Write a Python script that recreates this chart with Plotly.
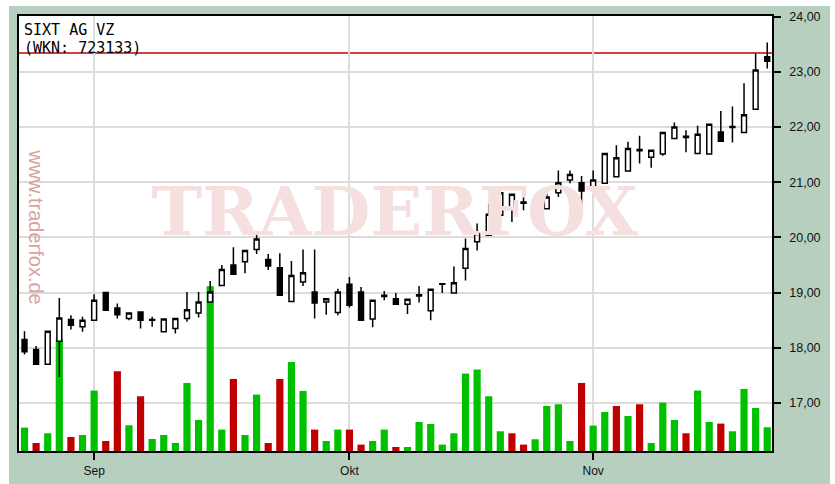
import plotly.graph_objects as go
import pandas as pd

# ---- data ----
dates = pd.bdate_range("2010-08-24", "2010-11-22")

opens = [18.15, 17.97, 17.70, 18.12, 18.51, 18.38, 18.50, 19.00, 18.72, 18.53,
         18.65, 18.50, 18.29, 18.35, 18.53, 18.63, 18.83, 19.13, 19.50, 19.56,
         19.78, 19.60, 19.45, 18.84, 19.19, 19.01, 18.83, 18.64, 19.15, 19.01,
         18.52, 18.93, 18.89, 18.79, 18.94, 18.67, 19.15, 18.99, 19.44, 19.92,
         20.04, 20.40, 20.51, 20.64, 20.62, 20.52, 20.81, 21.04, 20.99, 20.89,
         20.98, 21.10, 21.20, 21.59, 21.45, 21.51, 21.79, 21.83, 21.52, 21.51,
         21.91, 21.99, 21.90, 22.32, 23.27]
highs = [18.30, 18.03, 18.31, 18.90, 18.59, 18.56, 18.97, 19.01, 18.80, 18.64,
         18.66, 18.56, 18.53, 18.54, 19.01, 19.01, 19.21, 19.50, 19.82, 19.77,
         20.06, 19.70, 19.71, 19.57, 19.78, 19.78, 18.90, 19.07, 19.28, 19.10,
         18.87, 19.03, 18.99, 18.89, 19.12, 19.07, 19.17, 19.47, 19.98, 20.25,
         20.61, 20.82, 20.79, 20.80, 20.77, 20.89, 21.21, 21.21, 21.11, 21.21,
         21.53, 21.67, 21.73, 21.84, 21.59, 21.91, 22.08, 21.94, 22.02, 22.06,
         22.29, 22.37, 22.79, 23.33, 23.53]
lows = [17.88, 17.70, 17.70, 17.47, 18.33, 18.29, 18.50, 18.67, 18.53, 18.50,
        18.35, 18.38, 18.28, 18.26, 18.47, 18.55, 18.82, 19.12, 19.33, 19.35,
        19.70, 19.41, 18.95, 18.84, 19.12, 18.53, 18.60, 18.59, 18.73, 18.50,
        18.37, 18.86, 18.79, 18.61, 18.82, 18.50, 18.99, 18.99, 19.22, 19.76,
        20.04, 20.18, 20.28, 20.49, 20.49, 20.51, 20.73, 20.98, 20.46, 20.88,
        20.97, 21.10, 21.19, 21.34, 21.26, 21.48, 21.78, 21.54, 21.52, 21.50,
        21.74, 21.72, 21.89, 22.31, 23.06]
closes = [17.93, 17.70, 18.30, 18.54, 18.41, 18.50, 18.86, 18.68, 18.60, 18.63,
          18.50, 18.51, 18.52, 18.53, 18.69, 18.83, 19.01, 19.42, 19.33, 19.76,
          19.97, 19.48, 18.95, 19.31, 19.36, 18.81, 18.89, 19.01, 18.77, 18.50,
          18.86, 18.95, 18.79, 18.88, 18.96, 19.06, 19.16, 19.18, 19.80, 20.07,
          20.42, 20.81, 20.78, 20.62, 20.65, 20.73, 20.99, 21.14, 20.84, 21.04,
          21.52, 21.44, 21.61, 21.57, 21.58, 21.90, 22.00, 21.81, 21.87, 22.05,
          21.74, 22.01, 22.22, 23.03, 23.19]
volumes = [23400, 8000, 17700, 112000, 14000, 16000, 60400, 10000, 79700, 25700,
           54700, 12000, 16000, 8000, 68000, 31000, 164700, 21400, 72000, 16000,
           56400, 8000, 72000, 89000, 60000, 21400, 10000, 21400, 21400, 6400,
           10000, 21400, 4000, 4000, 29000, 27000, 6400, 17700, 77400, 81400,
           54700, 19700, 17700, 6400, 11700, 45000, 46700, 10000, 68000, 25400,
           39000, 45000, 35000, 46700, 8000, 48400, 31000, 17700, 60400, 29000,
           27400, 19700, 62000, 43000, 23700]
month_names = {9: "Sep", 10: "Okt", 11: "Nov"}
reference_level = 23.34
title_lines = ["SIXT AG VZ", "(WKN: 723133)"]

# ---- derived ----
xs = list(range(len(dates)))
vol_colors = ["#00c000"] + ["#00c000" if closes[i] >= closes[i - 1] else "#c00000"
                             for i in range(1, len(closes))]
tickvals, ticktext = [], []
for i, d in enumerate(dates):
    if d.month in month_names and (i == 0 or dates[i - 1].month != d.month):
        tickvals.append(i)
        ticktext.append(month_names[d.month])

SAGE = "#b7cfbe"
GRID = "#dcdcdc"

fig = go.Figure()
fig.add_trace(go.Bar(x=xs, y=volumes, marker=dict(color=vol_colors, line=dict(width=0)),
                     width=0.62, yaxis="y", hoverinfo="skip", showlegend=False))
fig.add_trace(go.Scatter(x=[31.9], y=[20.35], mode="text", text=["TRADERFOX"],
                         textfont=dict(family="DejaVu Serif", size=68, color="#f5dfdf", weight="bold"),
                         yaxis="y2", hoverinfo="skip", showlegend=False))
fig.add_trace(go.Candlestick(
    x=xs, open=opens, high=highs, low=lows, close=closes, yaxis="y2",
    increasing=dict(line=dict(color="black", width=1.5), fillcolor="white"),
    decreasing=dict(line=dict(color="black", width=1.5), fillcolor="black"),
    whiskerwidth=0, hoverinfo="skip", showlegend=False))

fig.update_layout(
    width=835, height=484,
    margin=dict(l=19, r=63, t=16, b=33, autoexpand=False),
    paper_bgcolor=SAGE, plot_bgcolor="white",
    separators=",.",
    boxgap=0.4,
    font=dict(family="Liberation Sans, Arial", size=12, color="#111"),
    hovermode=False,
    xaxis=dict(range=[-0.474, 64.41], tickvals=tickvals, ticktext=ticktext,
               showgrid=True, gridcolor=GRID, gridwidth=2, zeroline=False,
               ticks="outside", ticklen=7, tickcolor="black", tickwidth=1.5,
               ticklabelstandoff=1, automargin=False,
               showline=True, linecolor="black", linewidth=1.5, mirror=True,
               rangeslider=dict(visible=False), fixedrange=True),
    yaxis=dict(range=[0, 434700], visible=False, fixedrange=True, automargin=False),
    yaxis2=dict(overlaying="y", side="right", range=[16.13, 24.01],
                tickvals=list(range(17, 25)), tickformat=".2f",
                showgrid=True, gridcolor=GRID, gridwidth=2, zeroline=False,
                ticks="outside", ticklen=7, tickcolor="black", tickwidth=1.5,
                ticklabelstandoff=6, tickfont=dict(size=12.5), automargin=False,
                showline=True, linecolor="black", linewidth=1.5, mirror=True,
                fixedrange=True),
    shapes=[
        dict(type="line", xref="paper", x0=0, x1=1, yref="y2", y0=reference_level, y1=reference_level,
             line=dict(color="#c00000", width=1.5), layer="below"),
        dict(type="rect", xref="paper", yref="paper", x0=-0.03, x1=-0.0133, y0=-0.2, y1=1.2,
             fillcolor="white", line=dict(width=0), layer="above"),
        dict(type="rect", xref="paper", yref="paper", x0=-0.03, x1=1.2, y0=1.023, y1=1.2,
             fillcolor="white", line=dict(width=0), layer="above"),
        dict(type="rect", xref="paper", yref="paper", x0=1.077, x1=1.2, y0=-0.2, y1=1.2,
             fillcolor="white", line=dict(width=0), layer="above"),
    ],
    annotations=[
        dict(xref="paper", yref="paper", x=0.004, y=0.992, xanchor="left", yanchor="top",
             text=title_lines[0], showarrow=False,
             font=dict(family="DejaVu Sans Mono", size=15, color="black")),
        dict(xref="paper", yref="paper", x=0.004, y=0.952, xanchor="left", yanchor="top",
             text=title_lines[1], showarrow=False,
             font=dict(family="DejaVu Sans Mono", size=15, color="black")),
        dict(xref="paper", yref="paper", x=0.0215, y=0.514, xanchor="center", yanchor="middle",
             text="www.traderfox.de", textangle=90, showarrow=False,
             font=dict(family="Liberation Sans", size=20, color="#d9a3a3")),
    ],
)

fig.write_html("out.html", config={"displayModeBar": False},
               post_script="document.body.style.margin='0';document.body.style.overflow='hidden';")
